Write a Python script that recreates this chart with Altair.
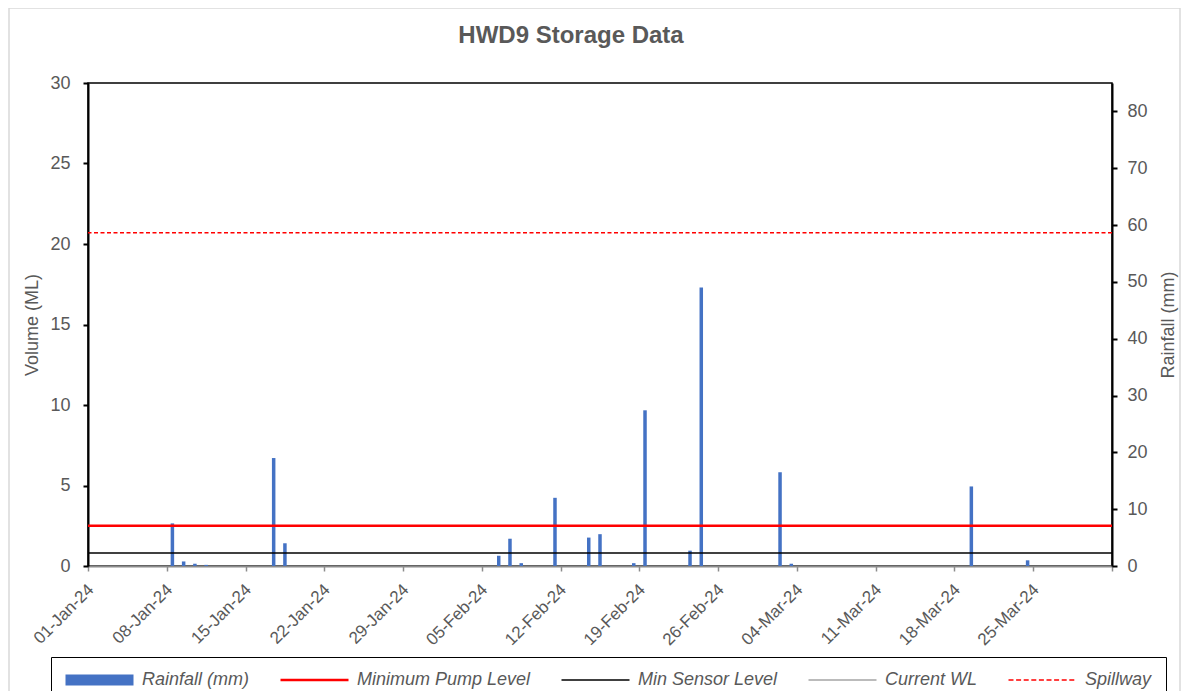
import altair as alt
import pandas as pd

# ---------------- data ----------------
rain_dates = ["2024-01-08", "2024-01-09", "2024-01-10", "2024-01-11", "2024-01-17", "2024-01-18",
              "2024-02-06", "2024-02-07", "2024-02-08", "2024-02-11", "2024-02-14", "2024-02-15",
              "2024-02-18", "2024-02-19", "2024-02-23", "2024-02-24", "2024-03-02", "2024-03-03",
              "2024-03-19", "2024-03-24"]
rain_mm = [7.5, 0.8, 0.4, 0.2, 19.0, 4.0,
           1.8, 4.8, 0.5, 12.0, 5.0, 5.6,
           0.5, 27.4, 2.7, 49.0, 16.5, 0.4,
           14.0, 1.0]

series_names = ["Rainfall (mm)", "Minimum Pump Level", "Min Sensor Level", "Current WL", "Spillway"]
series_colors = ["#4472C4", "#FF0000", "#000000", "#A5A5A5", "#FF0000"]

level_names = ["Minimum Pump Level", "Min Sensor Level", "Spillway"]
level_values = [2.5, 0.8, 20.7]

week_ticks = ["2024-01-01", "2024-01-08", "2024-01-15", "2024-01-22", "2024-01-29", "2024-02-05",
              "2024-02-12", "2024-02-19", "2024-02-26", "2024-03-04", "2024-03-11", "2024-03-18",
              "2024-03-25", "2024-04-01"]
x_start = "2024-01-01"
x_end = "2024-04-01"
volume_ticks = [0, 5, 10, 15, 20, 25, 30]
rain_ticks = [0, 10, 20, 30, 40, 50, 60, 70, 80]

FONT = "Liberation Sans"
TXT = "#595959"

# ---------------- tables ----------------
rain_df = pd.DataFrame({"date": rain_dates, "rain": rain_mm})
levels_df = pd.DataFrame({"series": level_names, "value": level_values})
legend_df = pd.DataFrame({"series": series_names})
col = dict(zip(series_names, series_colors))


def dt(s):
    y, m, d = (int(p) for p in s.split("-"))
    return alt.DateTime(year=y, month=m, date=d, utc=True)


# ---- legend glyphs: filled shapes in Vega's unit symbol space (symbolSize 289 -> 8.5 px per unit) ----
R = 8.5


def glyph_rect(h_px, x0=-1.0, x1=7.0):
    hh = round(h_px / 2 / R, 4)
    return f"M{x0},{-hh}H{x1}V{hh}H{x0}Z"


def glyph_dashed(h_px, dash_px, gap_px):
    parts, x = [], -1.0
    while x < 7.0 - 1e-6:
        x1 = min(x + dash_px / R, 7.0)
        parts.append(glyph_rect(h_px, round(x, 4), round(x1, 4)))
        x = x1 + gap_px / R
    return "".join(parts)


legend_shapes = [glyph_rect(11), glyph_rect(2.5), glyph_rect(1.5), glyph_rect(1.5), glyph_dashed(1.5, 5, 2.6)]

legend = alt.Legend(
    title=None,
    orient="none",
    legendX=-37,
    legendY=574,
    direction="horizontal",
    columns=5,
    strokeColor="black",
    padding=14,
    columnPadding=30,
    symbolSize=289,
    symbolStrokeWidth=0,
    symbolOpacity=1,
    labelOffset=59,
    labelFont=FONT,
    labelFontSize=18,
    labelFontStyle="italic",
    labelColor=TXT,
    labelLimit=400,
)

x_enc = alt.X(
    "mid:T",
    title=None,
    scale=alt.Scale(type="utc", domain=[dt(x_start), dt(x_end)], padding=0, nice=False),
    axis=alt.Axis(
        values=[dt(s) for s in week_ticks],
        labelExpr="utcmonth(datum.value) == 3 ? '' : utcFormat(datum.value, '%d-%b-%y')",
        labelAngle=-45,
        labelFontSize=17,
        domainColor="#8C8C8C",
        domainWidth=2,
        tickColor="#8C8C8C",
        tickWidth=1.5,
        tickSize=5,
        labelPadding=10,
        labelOffset=-3,
    ),
)

bars = (
    alt.Chart(rain_df)
    .transform_calculate(mid="toDate(datum.date + 'T12:00:00Z')")
    .mark_bar(width=3.5)
    .encode(
        x=x_enc,
        y=alt.Y(
            "rain:Q",
            scale=alt.Scale(domain=[0, 85], nice=False),
            axis=alt.Axis(
                orient="right",
                values=rain_ticks,
                title="Rainfall (mm)",
                titleAngle=270,
                titlePadding=30,
                labelPadding=10,
                domainColor="black",
                domainWidth=2,
                tickColor="black",
                tickWidth=2,
                tickSize=5,
            ),
        ),
        color=alt.value(col["Rainfall (mm)"]),
    )
)

y_left = alt.Y(
    "value:Q",
    scale=alt.Scale(domain=[0, 30], nice=False),
    axis=alt.Axis(
        orient="left",
        values=volume_ticks,
        title="Volume (ML)",
        titlePadding=8,
        labelPadding=13,
        domainColor="black",
        domainWidth=2,
        tickColor="black",
        tickWidth=2,
        tickSize=5,
    ),
)

lev = alt.Chart(levels_df)
pump = lev.transform_filter("datum.series == 'Minimum Pump Level'").mark_rule(strokeWidth=2.5).encode(
    y=y_left, color=alt.value(col["Minimum Pump Level"])
)
sensor = lev.transform_filter("datum.series == 'Min Sensor Level'").mark_rule(strokeWidth=1.5).encode(
    y=y_left, color=alt.value(col["Min Sensor Level"])
)
spill = lev.transform_filter("datum.series == 'Spillway'").mark_rule(strokeWidth=1.5, strokeDash=[4, 2.5]).encode(
    y=y_left, color=alt.value(col["Spillway"])
)
rules = alt.layer(pump, sensor, spill)

# legend-only layer: its symbols are placed off-canvas and clipped, only the legend shows
legend_layer = alt.Chart(legend_df).mark_point(filled=True, opacity=1, strokeWidth=0, clip=True).encode(
    x=alt.value(-5000),
    y=alt.value(-5000),
    color=alt.Color("series:N", scale=alt.Scale(domain=series_names, range=series_colors), legend=legend),
    shape=alt.Shape("series:N", scale=alt.Scale(domain=series_names, range=legend_shapes), legend=legend),
)

frame = alt.Chart(alt.Data(values=[{}])).mark_rect(fill="transparent", stroke="#D9D9D9", strokeWidth=1.5).encode(
    x=alt.value(-79), x2=alt.value(1092), y=alt.value(-75), y2=alt.value(700)
)

chart = (
    alt.layer(frame, bars, rules, legend_layer)
    .resolve_scale(y="independent")
    .properties(
        width=1024,
        height=483,
        title=alt.TitleParams(
            "HWD9 Storage Data",
            font=FONT,
            fontSize=24,
            fontWeight="bold",
            color=TXT,
            anchor="middle",
            dx=-29,
            offset=-41,
        ),
        autosize=alt.AutoSizeParams(type="none"),
        padding={"left": 80, "top": 75, "right": 69, "bottom": 125},
    )
    .configure_view(stroke="black", strokeWidth=1.5)
    .configure_axis(
        grid=False,
        labelFont=FONT,
        labelFontSize=18,
        labelColor=TXT,
        titleFont=FONT,
        titleFontSize=18,
        titleColor=TXT,
        titleFontWeight="normal",
    )
)

chart.save("out.html", embed_options={"renderer": "svg", "actions": False})
